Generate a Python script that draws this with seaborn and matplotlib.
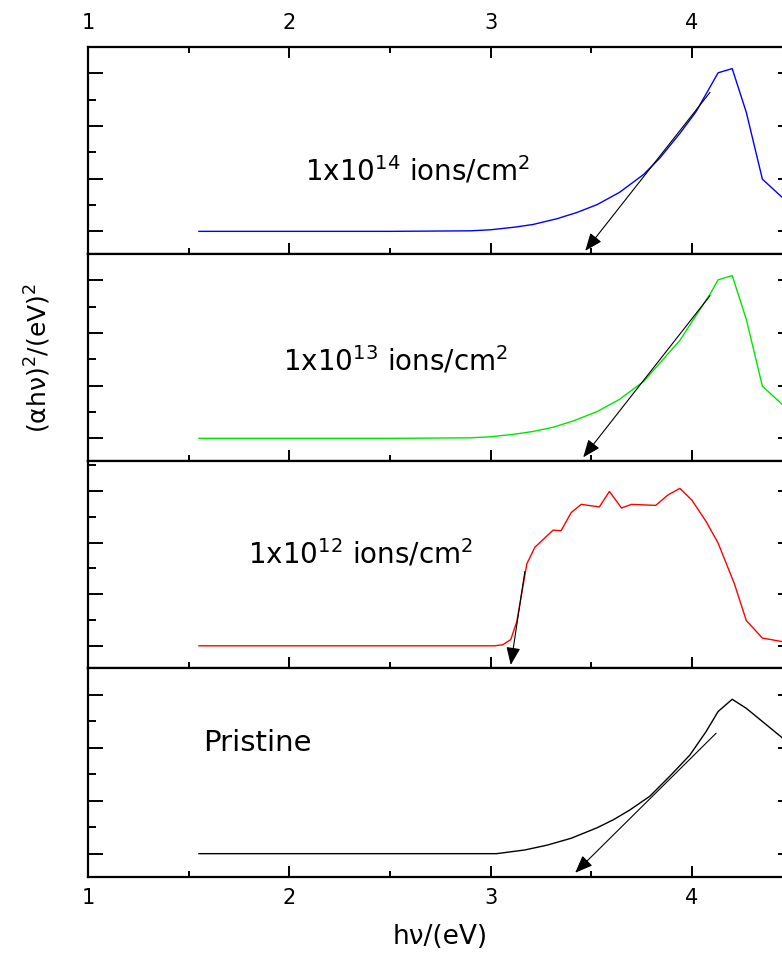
import matplotlib
matplotlib.use("Agg")
import matplotlib.pyplot as plt
import seaborn as sns
import pandas as pd

# ---------------- data ----------------
x_blue = [1.55, 2.0, 2.5, 2.9, 3.0, 3.12, 3.21, 3.33, 3.43, 3.53, 3.64, 3.76, 3.84, 3.94, 4.02, 4.13, 4.20, 4.27, 4.35, 4.45]
y_blue = [0.0, 0.0, 0.0, 0.01, 0.03, 0.08, 0.13, 0.24, 0.36, 0.51, 0.74, 1.08, 1.39, 1.86, 2.27, 3.01, 3.09, 2.26, 0.99, 0.64]

x_green = [1.55, 2.0, 2.5, 2.9, 3.0, 3.12, 3.21, 3.31, 3.41, 3.53, 3.64, 3.76, 3.94, 4.09, 4.13, 4.20, 4.27, 4.35, 4.45]
y_green = [0.0, 0.0, 0.0, 0.01, 0.03, 0.08, 0.13, 0.21, 0.33, 0.51, 0.74, 1.08, 1.86, 2.74, 3.01, 3.09, 2.26, 0.99, 0.64]

x_red = [1.55, 2.0, 2.5, 2.95, 3.02, 3.06, 3.10, 3.13, 3.18, 3.22, 3.31, 3.35, 3.40, 3.45, 3.54, 3.59, 3.65, 3.70,
         3.82, 3.88, 3.94, 4.00, 4.07, 4.13, 4.21, 4.27, 4.35, 4.45]
y_red = [0.0, 0.0, 0.0, 0.0, 0.0, 0.02, 0.12, 0.47, 1.59, 1.91, 2.24, 2.23, 2.58, 2.74, 2.69, 2.99, 2.67, 2.74,
         2.72, 2.92, 3.05, 2.82, 2.41, 1.99, 1.21, 0.49, 0.15, 0.08]

x_black = [1.55, 2.0, 2.5, 2.95, 3.03, 3.17, 3.28, 3.40, 3.53, 3.61, 3.69, 3.79, 3.89, 3.99, 4.07, 4.13, 4.20, 4.27, 4.36, 4.45]
y_black = [0.0, 0.0, 0.0, 0.0, 0.0, 0.07, 0.16, 0.29, 0.49, 0.64, 0.82, 1.08, 1.46, 1.86, 2.30, 2.68, 2.91, 2.74, 2.46, 2.18]

# tangent (band-gap extrapolation) lines: start point and arrow tip
tangent_start_x = [4.09, 4.09, 3.17, 4.12]
tangent_start_y = [2.64, 2.71, 1.44, 2.27]
tangent_tip_x = [3.47, 3.46, 3.10, 3.42]
tangent_tip_y = [-0.37, -0.36, -0.37, -0.36]

panel_labels = [r"1x10$^{14}$ ions/cm$^{2}$", r"1x10$^{13}$ ions/cm$^{2}$",
                r"1x10$^{12}$ ions/cm$^{2}$", "Pristine"]
label_x = [2.08, 1.97, 1.795, 1.57]
label_y = [0.96, 1.28, 1.59, 1.94]

x_ticks = [1, 2, 3, 4]
x_minor = [1.5, 2.5, 3.5, 4.5]
y_ticks = [0, 1, 2, 3]
y_minor = [0.5, 1.5, 2.5, 3.5]

series = [(x_blue, y_blue, "#0000ff"), (x_green, y_green, "#00e600"),
          (x_red, y_red, "#ff0000"), (x_black, y_black, "#000000")]

# ---------------- figure ----------------
sns.set_style("ticks")
plt.rcParams["font.family"] = ["DejaVu Sans"]
plt.rcParams["mathtext.fontset"] = "dejavusans"
plt.rcParams["text.color"] = "black"
plt.rcParams["axes.labelcolor"] = "black"
plt.rcParams["xtick.color"] = "black"
plt.rcParams["ytick.color"] = "black"
plt.rcParams["axes.edgecolor"] = "black"

W, H = 782, 959
fig = plt.figure(figsize=(W / 100, H / 100), dpi=100)

left_px, right_px = 88, 792.6
bounds_px = [(47, 254), (254, 461), (461, 668), (668, 877)]
ylims = [(-0.43, 3.45), (-0.43, 3.46), (-0.43, 3.58), (-0.44, 3.45)]
label_sizes = [20, 20, 20, 21]

axes = []
for i, ((top, bot), (xs, ys, col)) in enumerate(zip(bounds_px, series)):
    ax = fig.add_axes([left_px / W, 1 - bot / H, (right_px - left_px) / W, (bot - top) / H])
    df = pd.DataFrame({"x": xs, "y": ys})
    sns.lineplot(data=df, x="x", y="y", ax=ax, color=col, lw=1.0, sort=False, estimator=None)
    ax.set_xlim(1, 4.5)
    ax.set_ylim(*ylims[i])
    ax.set_xticks(x_ticks)
    ax.set_xticks(x_minor, minor=True)
    ax.set_yticks(y_ticks)
    ax.set_yticks(y_minor, minor=True)
    ax.set_xlabel("")
    ax.set_ylabel("")
    for s in ax.spines.values():
        s.set_linewidth(1.6)
        s.set_color("black")
    ax.tick_params(axis="y", which="both", direction="in", left=True, right=True,
                   labelleft=False, labelright=False, width=1.4, color="black")
    ax.tick_params(axis="y", which="major", length=11)
    ax.tick_params(axis="y", which="minor", length=5.8)
    ax.tick_params(axis="x", which="both", direction="in", bottom=True, top=(i == 0),
                   labelbottom=(i == 3), labeltop=(i == 0), width=1.4, color="black",
                   labelcolor="black", labelsize=15, pad=(10 if i == 0 else 8))
    ax.tick_params(axis="x", which="major", length=8)
    ax.tick_params(axis="x", which="minor", length=4)
    ax.annotate("", xy=(tangent_tip_x[i], tangent_tip_y[i]),
                xytext=(tangent_start_x[i], tangent_start_y[i]),
                arrowprops=dict(arrowstyle="-|>,head_length=0.6,head_width=0.24",
                                color="black", lw=0.8, mutation_scale=18,
                                shrinkA=0, shrinkB=0))
    ax.text(label_x[i], label_y[i], panel_labels[i], fontsize=label_sizes[i],
            ha="left", va="baseline", color="black")
    axes.append(ax)

axes[3].set_xlabel("h\u03bd/(eV)", fontsize=19, color="black")
axes[3].xaxis.set_label_coords(0.5, -0.225)

fig.text(0.048, 1 - 358 / H, "(\u03b1h\u03bd)$^{2}$/(eV)$^{2}$", rotation=90,
         ha="center", va="center", fontsize=18, color="black")

fig.savefig("out.png", dpi=100)
